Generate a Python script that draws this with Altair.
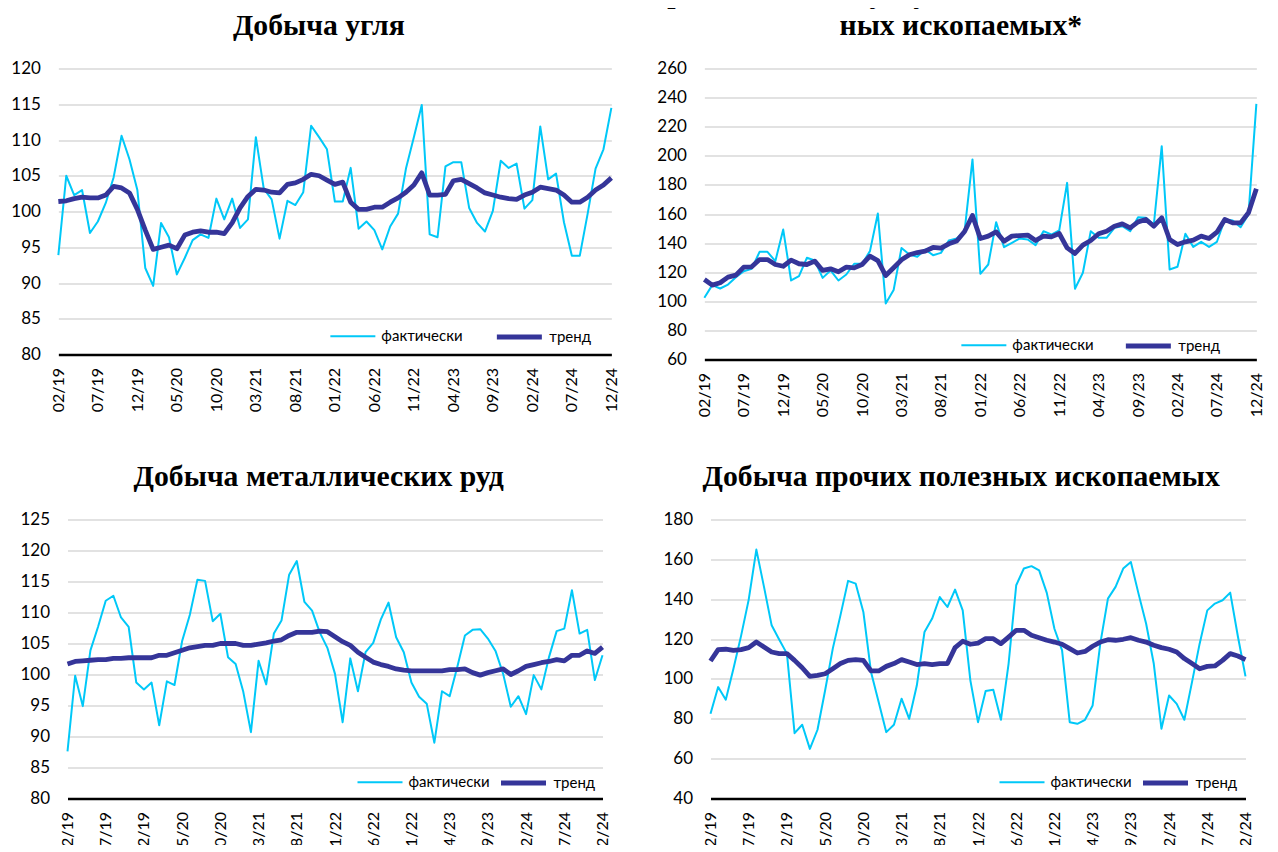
import altair as alt
import pandas as pd

# ---- categories -------------------------------------------------------------
months = [f"{m:02d}/{y % 100:02d}" for y in range(2019, 2025) for m in range(1, 13)][1:]
tick_labels = months[::5]
series_names = ["фактически", "тренд"]

# ---- data ------------------------------------------------------------------
coal_fact = [93.9, 105.0, 102.3, 103.0, 97.0, 98.6, 101.2, 104.8, 110.6, 107.3,
             103.0, 92.1, 89.6, 98.4, 96.4, 91.2, 93.5, 96.0, 96.8, 96.3,
             101.8, 98.9, 101.8, 97.7, 98.9, 110.4, 103.2, 101.7, 96.2, 101.5,
             100.9, 102.7, 112.0, 110.4, 108.7, 101.4, 101.4, 106.1, 97.6, 98.6,
             97.4, 94.7, 97.9, 99.7, 106.0, 110.4, 114.9, 96.8, 96.4, 106.3,
             106.9, 106.9, 100.5, 98.4, 97.2, 100.1, 107.1, 106.1, 106.7, 100.4,
             101.6, 111.9, 104.5, 105.3, 98.5, 93.8, 93.8, 99.7, 106.0, 108.7, 114.5]
coal_trend = [101.4, 101.5, 101.8, 102.0, 101.9, 101.9, 102.3, 103.5, 103.3, 102.6,
              100.3, 97.4, 94.7, 95.0, 95.3, 94.8, 96.7, 97.1, 97.3, 97.1,
              97.1, 96.9, 98.4, 100.5, 102.1, 103.1, 103.0, 102.7, 102.6, 103.8,
              104.0, 104.5, 105.2, 105.0, 104.4, 103.8, 104.1, 101.3, 100.3, 100.3,
              100.6, 100.6, 101.3, 101.9, 102.7, 103.7, 105.4, 102.3, 102.3, 102.4,
              104.3, 104.5, 103.9, 103.3, 102.6, 102.3, 102.0, 101.8, 101.7, 102.3,
              102.7, 103.4, 103.2, 103.0, 102.3, 101.3, 101.3, 102.0, 103.0, 103.7, 104.7]

serv_fact = [102.4, 111.1, 108.8, 111.5, 116.6, 120.7, 122.3, 134.0, 134.0, 127.6,
             149.3, 114.3, 117.3, 129.9, 128.0, 116.1, 121.2, 114.3, 118.4, 125.8,
             125.8, 134.5, 160.3, 98.5, 107.7, 136.7, 132.2, 130.6, 135.6, 131.7,
             133.3, 141.8, 143.2, 148.2, 197.5, 118.9, 125.3, 154.4, 137.2, 140.2,
             143.2, 142.5, 138.6, 148.2, 145.9, 148.7, 181.4, 108.6, 119.6, 148.2,
             143.6, 143.6, 150.5, 151.6, 148.2, 157.8, 157.4, 152.8, 206.6, 121.9,
             123.7, 146.4, 137.4, 140.9, 137.4, 140.9, 156.2, 155.5, 150.9, 159.7, 235.7]
serv_trend = [115.0, 111.1, 112.7, 116.6, 118.0, 123.5, 123.7, 128.7, 128.7, 125.3,
              124.1, 128.3, 125.8, 125.3, 127.6, 121.2, 122.3, 120.3, 123.5, 123.0,
              125.3, 131.0, 128.0, 117.7, 123.0, 128.5, 132.0, 133.5, 134.5, 137.0,
              136.5, 139.5, 141.5, 148.0, 159.0, 143.2, 144.8, 147.7, 141.3, 144.8,
              145.2, 145.5, 141.8, 144.8, 144.3, 146.6, 136.7, 132.9, 138.6, 141.8,
              146.4, 148.2, 151.6, 153.2, 150.5, 154.6, 156.2, 151.6, 157.4, 142.5,
              139.0, 140.9, 142.0, 144.8, 143.2, 147.5, 156.2, 153.9, 153.9, 160.8, 177.3]

met_fact = [87.6, 99.8, 94.9, 103.9, 107.7, 111.9, 112.7, 109.2, 107.7, 98.7,
            97.6, 98.7, 91.8, 98.9, 98.3, 105.4, 109.6, 115.3, 115.1, 108.6,
            109.8, 102.8, 101.7, 97.2, 90.7, 102.2, 98.4, 106.6, 108.7, 116.1,
            118.3, 111.7, 110.3, 106.8, 104.3, 100.1, 92.3, 102.6, 97.3, 103.6,
            105.1, 108.9, 111.6, 106.0, 103.6, 98.7, 96.4, 95.3, 89.0, 97.3,
            96.5, 101.2, 106.3, 107.2, 107.3, 105.8, 103.8, 100.1, 94.8, 96.5,
            93.6, 99.9, 97.6, 102.8, 107.0, 107.4, 113.6, 106.6, 107.2, 99.1, 103.1]
met_trend = [101.7, 102.1, 102.2, 102.3, 102.4, 102.4, 102.6, 102.6, 102.7, 102.7,
             102.7, 102.7, 103.1, 103.1, 103.5, 103.9, 104.3, 104.5, 104.7, 104.7,
             105.0, 105.0, 105.0, 104.7, 104.7, 104.9, 105.1, 105.4, 105.6, 106.3,
             106.8, 106.8, 106.8, 107.0, 106.9, 106.1, 105.3, 104.7, 103.6, 102.8,
             102.0, 101.6, 101.3, 100.9, 100.7, 100.6, 100.6, 100.6, 100.6, 100.6,
             100.8, 100.8, 100.9, 100.3, 99.9, 100.3, 100.6, 100.9, 100.0, 100.6,
             101.3, 101.6, 101.9, 102.1, 102.4, 102.2, 103.1, 103.1, 103.8, 103.4, 104.4]

oth_fact = [82.5, 95.9, 89.6, 105.1, 121.6, 139.8, 164.9, 146.2, 126.9, 119.7,
            112.7, 72.8, 77.0, 64.9, 74.5, 94.3, 115.2, 131.9, 149.2, 147.8,
            133.6, 103.5, 88.4, 73.3, 77.0, 90.1, 80.0, 96.8, 123.6, 130.3,
            141.1, 136.1, 144.8, 134.4, 99.3, 78.3, 93.9, 94.6, 79.5, 107.6,
            147.0, 155.4, 156.6, 154.5, 143.2, 125.2, 114.3, 78.3, 77.5, 79.5,
            86.7, 117.7, 140.3, 146.2, 155.4, 158.7, 142.8, 127.7, 107.6, 75.0,
            91.7, 87.5, 79.5, 98.4, 117.7, 134.4, 137.8, 139.5, 143.3, 121.4, 101.3]
oth_trend = [109.0, 114.7, 114.9, 114.3, 114.7, 115.7, 118.5, 116.0, 113.5, 112.7,
             112.7, 109.3, 105.6, 101.3, 101.8, 102.6, 105.1, 107.7, 109.3, 109.7,
             109.3, 104.0, 104.0, 106.3, 107.7, 109.7, 108.5, 107.2, 107.7, 107.2,
             107.7, 107.7, 115.7, 118.9, 117.4, 118.0, 120.2, 120.2, 117.7, 121.0,
             124.4, 124.4, 121.9, 120.7, 119.4, 118.5, 117.4, 115.2, 113.0, 113.8,
             116.4, 118.5, 119.7, 119.4, 119.9, 120.7, 119.4, 118.5, 116.9, 115.7,
             114.9, 113.5, 110.2, 107.7, 105.1, 106.3, 106.5, 109.3, 112.7, 111.5, 109.7]

for arr in (coal_fact, coal_trend, serv_fact, serv_trend, met_fact, met_trend, oth_fact, oth_trend):
    assert len(arr) == len(months)

# ---- styling ---------------------------------------------------------------
CYAN = "#00C8F8"
INDIGO = "#353599"
LABEL_FONT = "Lato"
TITLE_FONT = "Liberation Serif"


def make_panel(title, fact, trend, y_min, y_max, y_step, w, h, leg_x, leg_y, col_pad,
               title_dx, leg_pad=0):
    n = len(months)
    df = pd.DataFrame({
        "month": months + months,
        "value": fact + trend,
        "series": [series_names[0]] * n + [series_names[1]] * n,
    })
    legend = alt.Legend(title=None, orient="none", legendX=leg_x - leg_pad, legendY=leg_y - leg_pad,
                        direction="horizontal", columnPadding=col_pad, padding=leg_pad)
    y_axis = alt.Axis(values=list(range(y_min, y_max + 1, y_step)), grid=True,
                      gridColor="#D9D9D9", gridWidth=1.3, domain=False, ticks=False,
                      labelPadding=18, labelFont=LABEL_FONT, labelFontSize=17,
                      labelColor="#000000", title=None)
    x_axis = alt.Axis(values=tick_labels, labelAngle=270, labelPadding=13, ticks=False,
                      tickSize=0, domain=True, domainColor="#000000", domainWidth=2.6,
                      grid=False, labelFont=LABEL_FONT, labelFontSize=16,
                      labelColor="#000000", labelOverlap=False, labelFlush=False,
                      title=None)
    return alt.Chart(df, title=alt.TitleParams(
        text=title, font=TITLE_FONT, fontSize=29.7, fontWeight="bold", color="#000000",
        anchor="middle", baseline="bottom", offset=-11.3, lineHeight=32, dx=title_dx,
    )).mark_line().encode(
        x=alt.X("month:O", scale=alt.Scale(type="point", padding=0, domain=months), axis=x_axis),
        y=alt.Y("value:Q", scale=alt.Scale(domain=[y_min, y_max], nice=False, zero=False), axis=y_axis),
        color=alt.Color("series:N", scale=alt.Scale(domain=series_names, range=[CYAN, INDIGO]), legend=legend),
        strokeWidth=alt.StrokeWidth("series:N", scale=alt.Scale(domain=series_names, range=[2.0, 4.8]), legend=legend),
    ).properties(width=w, height=h)


p1 = make_panel("Добыча угля", coal_fact, coal_trend, 80, 120, 5, 553, 286, 271, 243.5, 31, -16)
p2 = make_panel(["Предоставление услуг в области добычи полез-", "ных ископаемых*"],
                serv_fact, serv_trend, 60, 260, 20, 552, 291, 256, 252.5, 29, -19.5)
p3 = make_panel("Добыча металлических руд", met_fact, met_trend, 80, 125, 5, 535, 279, 289, 238.5, 8, -16.3)
p4 = make_panel("Добыча прочих полезных ископаемых", oth_fact, oth_trend, 40, 180, 20, 535, 279, 288, 238.5, 8,
                -16.8, leg_pad=31)

indep = dict(color="independent", strokeWidth="independent")

row1 = alt.hconcat(p1, p2, spacing=93, bounds="flush").resolve_scale(**indep)
row2 = alt.hconcat(p3, p4, spacing=108, bounds="flush").resolve_scale(**indep)

chart = alt.vconcat(row1, row2, spacing=44, center=True).resolve_scale(**indep).properties(
    padding={"top": -29.5, "left": 2, "right": -12, "bottom": -12},
    background="white",
).configure_view(stroke=None).configure_legend(
    symbolType="stroke", symbolSize=2025, labelFont=LABEL_FONT, labelFontSize=15,
    labelColor="#000000", labelOffset=5, rowPadding=0,
).configure_line(strokeJoin="round")

chart.save("out.html", embed_options={"renderer": "svg", "actions": False})
